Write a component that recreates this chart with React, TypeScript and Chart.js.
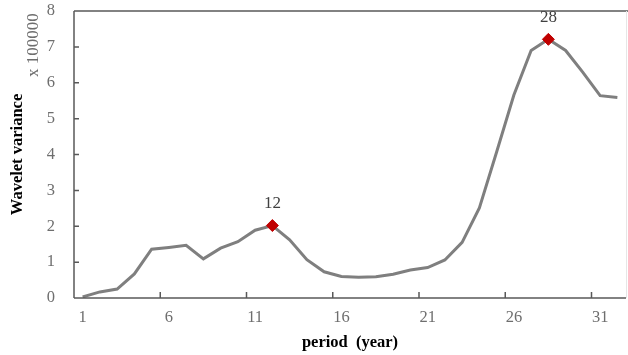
import React, { useEffect, useRef } from 'react';
import { Chart, registerables } from 'chart.js';
Chart.register(...registerables);

const periods = ['1','2','3','4','5','6','7','8','9','10','11','12','13','14','15','16','17','18','19','20','21','22','23','24','25','26','27','28','29','30','31','32'];
const variance = [0.03,0.17,0.25,0.67,1.36,1.41,1.47,1.09,1.39,1.57,1.89,2.02,1.62,1.07,0.73,0.60,0.58,0.59,0.66,0.78,0.85,1.06,1.55,2.51,4.07,5.66,6.90,7.21,6.90,6.29,5.64,5.59];
const peakPeriods = ['12', '28'];
const xTickLabels = ['1','6','11','16','21','26','31'];
const yTickValues = [0,1,2,3,4,5,6,7,8];
const yTitle = 'Wavelet variance';
const yUnit = 'x 100000';
const xTitle = 'period  (year)';

const SERIF = '"Liberation Serif", "Times New Roman", serif';
const AXIS = '#595959';
const TICKTXT = '#6e6e6e';

const decorPlugin = {
  id: 'decor',
  afterDraw(chart: any) {
    const { ctx, chartArea: a, scales } = chart;
    const xs = scales.x, ys = scales.y;
    ctx.save();
    ctx.lineWidth = 1.5;
    ctx.strokeStyle = AXIS;
    ctx.beginPath();
    ctx.moveTo(a.left, a.top); ctx.lineTo(a.left, a.bottom);
    ctx.moveTo(a.left, a.bottom); ctx.lineTo(a.right, a.bottom);
    ctx.moveTo(a.left, a.top); ctx.lineTo(chart.width, a.top);
    for (const v of yTickValues) {
      const y = ys.getPixelForValue(v);
      ctx.moveTo(a.left, y); ctx.lineTo(a.left + 5, y);
    }
    for (const lab of xTickLabels) {
      const i = periods.indexOf(lab);
      if (i <= 0) continue;
      const x = (xs.getPixelForValue(i - 1) + xs.getPixelForValue(i)) / 2;
      ctx.moveTo(x, a.bottom); ctx.lineTo(x, a.bottom - 6);
    }
    ctx.stroke();
    ctx.strokeStyle = '#e6e6e6';
    ctx.lineWidth = 1;
    ctx.beginPath();
    ctx.moveTo(a.right + 0.5, a.top); ctx.lineTo(a.right + 0.5, a.bottom);
    ctx.stroke();

    ctx.fillStyle = '#404040';
    ctx.font = `17px ${SERIF}`;
    ctx.textAlign = 'center';
    ctx.textBaseline = 'middle';
    for (const p of peakPeriods) {
      const i = periods.indexOf(p);
      const x = xs.getPixelForValue(i);
      const y = ys.getPixelForValue(variance[i]);
      ctx.fillText(p, x, y - 22);
    }

    ctx.fillStyle = '#000';
    ctx.font = `bold 16.5px ${SERIF}`;
    ctx.save();
    ctx.translate(18, (a.top + a.bottom) / 2);
    ctx.rotate(-Math.PI / 2);
    ctx.fillText(yTitle, 0, 0);
    ctx.restore();

    ctx.fillStyle = TICKTXT;
    ctx.font = `17px ${SERIF}`;
    ctx.save();
    ctx.translate(34, 45);
    ctx.rotate(-Math.PI / 2);
    ctx.fillText(yUnit, 0, 0);
    ctx.restore();

    ctx.fillStyle = '#000';
    ctx.font = `bold 16.5px ${SERIF}`;
    ctx.fillText(xTitle, (a.left + a.right) / 2, 343);
    ctx.restore();
  }
};

export default function App() {
  const ref = useRef<HTMLCanvasElement>(null);
  useEffect(() => {
    const canvas = ref.current!;
    const chart = new Chart(canvas, {
      type: 'line',
      data: {
        labels: periods,
        datasets: [{
          data: variance,
          borderColor: '#7f7f7f',
          borderWidth: 3,
          tension: 0,
          pointStyle: 'rectRot',
          pointRadius: (c: any) => (peakPeriods.includes(periods[c.dataIndex]) ? 6 : 0),
          pointBackgroundColor: '#c00000',
          pointBorderColor: '#c00000',
          pointBorderWidth: 1,
        }],
      },
      options: {
        responsive: false,
        animation: false,
        layout: { padding: { top: 11, right: 2, left: 0, bottom: 0 } },
        plugins: { legend: { display: false }, tooltip: { enabled: false } },
        scales: {
          x: {
            type: 'category',
            offset: true,
            grid: { display: false, drawTicks: false },
            border: { display: false },
            afterFit: (s: any) => { s.height = 57; s.paddingLeft = 0; s.paddingRight = 0; },
            ticks: {
              autoSkip: false,
              maxRotation: 0,
              padding: 10,
              color: TICKTXT,
              font: { family: SERIF, size: 16.5 },
              callback: (_v: any, i: number) => (xTickLabels.includes(periods[i]) ? periods[i] : ''),
            },
          },
          y: {
            min: 0,
            max: 8,
            grid: { display: false, drawTicks: false },
            border: { display: false },
            afterFit: (s: any) => { s.width = 74; s.paddingTop = 0; s.paddingBottom = 0; },
            afterBuildTicks: (s: any) => { s.ticks = yTickValues.map((v) => ({ value: v })); },
            ticks: {
              padding: 19,
              color: TICKTXT,
              font: { family: SERIF, size: 16.5 },
            },
          },
        },
      },
      plugins: [decorPlugin],
    });
    return () => chart.destroy();
  }, []);
  return (
    <div style={{ position: 'fixed', left: 0, top: 0, width: 628, height: 355, background: '#fff' }}>
      <canvas ref={ref} width={628} height={355} style={{ display: 'block' }} />
    </div>
  );
}
